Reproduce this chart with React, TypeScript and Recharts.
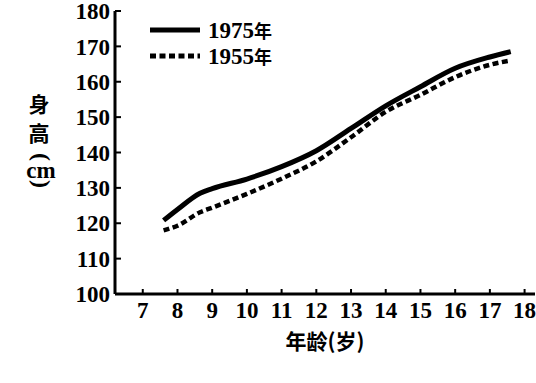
import { LineChart, Line, XAxis, YAxis, Legend } from 'recharts';

// 年龄 (岁) and 身高 (cm)
const ages = [7.6, 8, 8.65, 9, 10, 11, 12, 13, 14, 15, 16, 17, 17.6];
const height1975 = [120.8, 123.9, 128.5, 129.8, 132.5, 136, 140.5, 146.8, 153.2, 158.6, 163.8, 167, 168.5];
const height1955 = [118, 119.3, 123.1, 124.4, 128.3, 132.6, 137.5, 144.3, 151.5, 156.3, 161.3, 164.8, 166];

const seriesNames = ['1975年', '1955年'];
const seriesKeys = ['h1975', 'h1955'];
const seriesDash = [undefined, '6 3.5'];

const xTicks = [7, 8, 9, 10, 11, 12, 13, 14, 15, 16, 17, 18];
const yTicks = [100, 110, 120, 130, 140, 150, 160, 170, 180];

const data = ages.map((age, i) => ({ age, h1975: height1975[i], h1955: height1955[i] }));

const serif = "'Liberation Serif', 'DejaVu Serif', serif";
const cjk = "'Noto Sans CJK SC', sans-serif";

function XTick(props: any) {
  const { x, y, payload } = props;
  return (
    <g>
      <line x1={x} y1={y - 8} x2={x} y2={y - 13} stroke="#000" strokeWidth={2} />
      <text x={x} y={y} dy="0.71em" textAnchor="middle" fontFamily={serif} fontWeight="bold" fontSize={23} fill="#000">
        {payload.value}
      </text>
    </g>
  );
}

function YTick(props: any) {
  const { x, y, payload } = props;
  return (
    <g>
      <line x1={x + 5} y1={y} x2={x + 11} y2={y} stroke="#000" strokeWidth={2} />
      <text x={x} y={y} dy="0.355em" textAnchor="end" fontFamily={serif} fontWeight="bold" fontSize={23} fill="#000">
        {payload.value}
      </text>
    </g>
  );
}

// vertical title: 身高 (cm), with the brackets turned sideways
function YTitle() {
  const base = { fontWeight: 'bold' as const, fill: '#000', textAnchor: 'middle' as const };
  return (
    <g>
      <text x={39} y={105} dy="0.35em" fontFamily={cjk} fontSize={21} {...base}>身</text>
      <text x={39} y={134} dy="0.35em" fontFamily={cjk} fontSize={21} {...base}>高</text>
      <g transform="translate(40 157) rotate(90)">
        <text x={0} y={0} dy="0.25em" fontFamily={serif} fontSize={24} {...base}>(</text>
      </g>
      <text x={41} y={170} dy="0.35em" fontFamily={serif} fontSize={23} {...base}>cm</text>
      <g transform="translate(40 184) rotate(90)">
        <text x={0} y={0} dy="0.25em" fontFamily={serif} fontSize={24} {...base}>)</text>
      </g>
    </g>
  );
}

function LegendBox() {
  return (
    <div>
      {seriesNames.map((name, i) => (
        <div key={name} style={{ display: 'flex', alignItems: 'center', height: 26 }}>
          <svg width={56} height={10}>
            <line x1={0} y1={5} x2={50} y2={5} stroke="#000" strokeWidth={5} strokeDasharray={seriesDash[i]} />
          </svg>
          <span style={{ fontFamily: serif, fontWeight: 'bold', fontSize: 23, color: '#000', marginLeft: 2, lineHeight: '23px' }}>
            {name.replace('年', '')}
            <span style={{ fontFamily: cjk, fontSize: 18, lineHeight: '23px' }}>年</span>
          </span>
        </div>
      ))}
    </div>
  );
}

export default function App() {
  return (
    <div style={{ position: 'absolute', left: 0, top: 0, background: '#fff' }}>
      <LineChart width={536} height={383} data={data} margin={{ top: 11, right: 1, bottom: 59, left: 0 }}>
        <XAxis
          dataKey="age"
          type="number"
          domain={[6.2, 18.3]}
          ticks={xTicks}
          allowDataOverflow
          tickSize={0}
          tickMargin={8}
          height={30}
          tick={<XTick />}
          axisLine={{ stroke: '#000', strokeWidth: 3 }}
          label={{ value: '年龄(岁)', position: 'bottom', offset: 10, fontFamily: cjk, fontWeight: 'bold', fontSize: 21, fill: '#000' }}
        />
        <YAxis
          type="number"
          domain={[100, 180]}
          ticks={yTicks}
          width={115}
          tickSize={0}
          tickMargin={5}
          tick={<YTick />}
          axisLine={{ stroke: '#000', strokeWidth: 3 }}
          label={{ content: () => <YTitle /> }}
        />
        <Legend
          layout="vertical"
          align="center"
          verticalAlign="middle"
          wrapperStyle={{ left: 150, top: 17, width: 170 }}
          content={<LegendBox />}
        />
        {seriesKeys.map((key, i) => (
          <Line
            key={key}
            type="monotone"
            dataKey={key}
            name={seriesNames[i]}
            stroke="#000"
            strokeWidth={i === 0 ? 5 : 4.5}
            strokeDasharray={seriesDash[i]}
            dot={false}
            isAnimationActive={false}
          />
        ))}
      </LineChart>
    </div>
  );
}
